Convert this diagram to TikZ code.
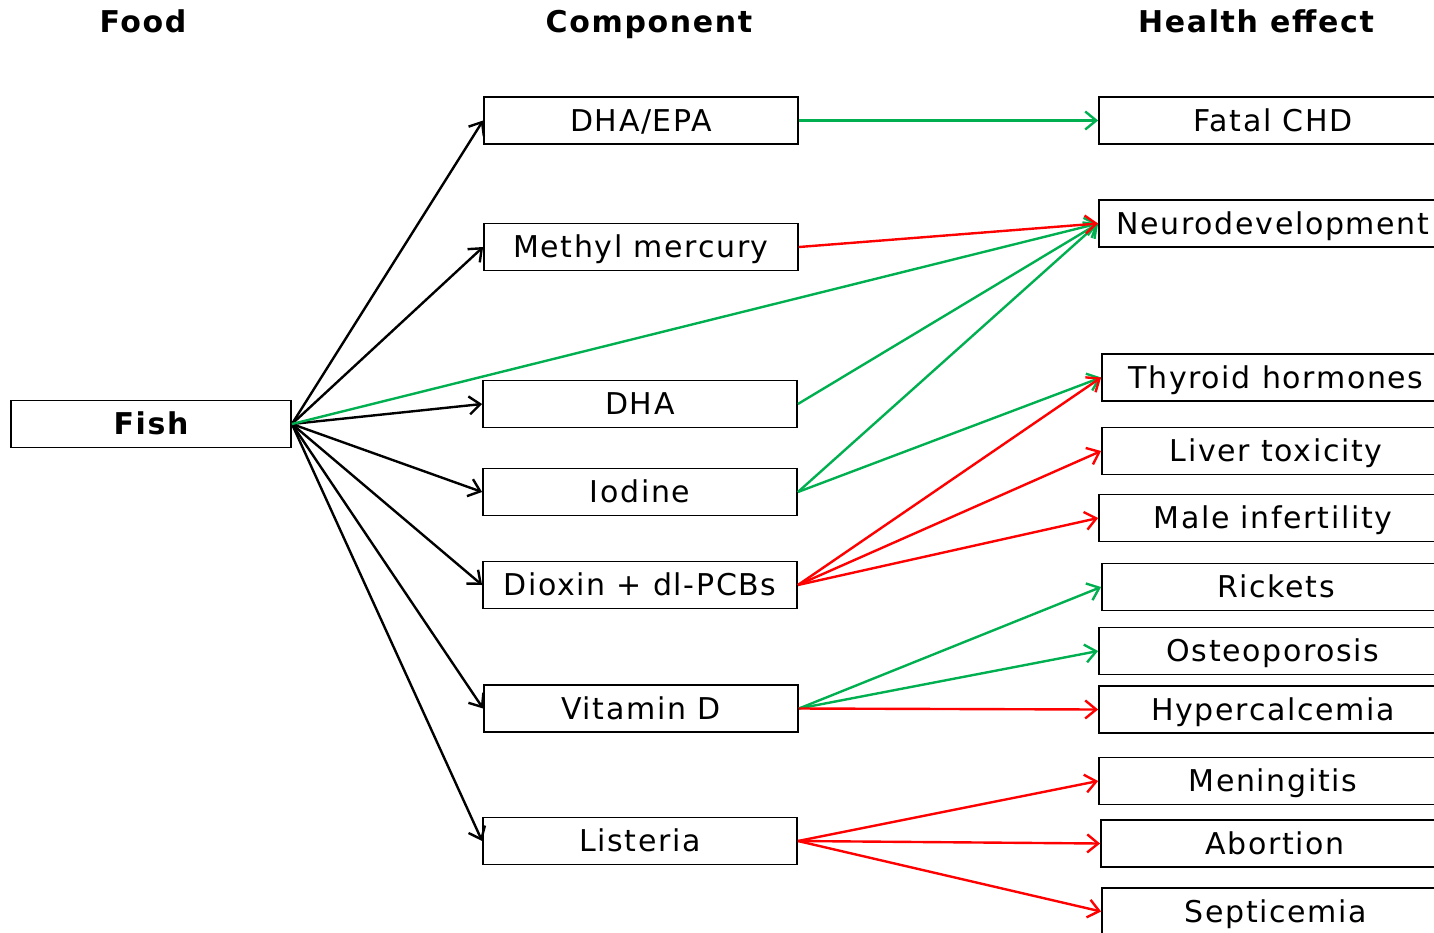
\documentclass[tikz,border=0pt]{standalone}
\usepackage{fontspec}
\setmainfont{DejaVu Sans}[LetterSpace=5.5]
\usetikzlibrary{arrows.meta}
\definecolor{effgreen}{RGB}{0,176,80}
\definecolor{effred}{RGB}{255,0,0}
\begin{document}
\begin{tikzpicture}[x=1pt,y=-1pt,
  txt/.style={font=\fontsize{30}{36}\selectfont, text height=21.5pt, text depth=0pt, inner sep=0pt},
  box/.style={txt, draw, line width=1.8pt, minimum height=47pt},
  comp/.style={box, minimum width=314pt},
  eff/.style={box, minimum width=348pt},
  head/.style={txt, font=\fontsize{30}{36}\selectfont\bfseries},
  link/.style={line width=2.4pt, -{Straight Barb[length=11pt,width=18pt]}},
  feed/.style={link, draw=black},
  good/.style={link, draw=effgreen},
  bad/.style={link, draw=effred}]
\useasboundingbox (0,0) rectangle (1434,932);
\clip (0,0) rectangle (1434,932);

% column headings
\node[head] (hfood) at (143,21.5) {Food};
\node[head] (hcomp) at (649,21.5) {Component};
\node[head] (heff)  at (1256,21.5) {Health effect};

% food
\node[box, minimum width=280pt, font=\fontsize{30}{36}\selectfont\bfseries] (fish) at (151,424) {Fish};

% components
\node[comp] (dhaepa) at (641,120.5) {DHA/EPA};
\node[comp] (mehg)   at (641,247)   {Methyl mercury};
\node[comp] (dha)    at (640,404)   {DHA};
\node[comp] (iod)    at (640,492)   {Iodine};
\node[comp] (diox)   at (640,585)   {Dioxin + dl-PCBs};
\node[comp] (vitd)   at (641,708.5) {Vitamin D};
\node[comp] (list)   at (640,841)   {Listeria};

% health effects
\node[eff] (fchd)   at (1273,120.5) {Fatal CHD};
\node[eff] (neuro)  at (1273,223.5) {Neurodevelopment};
\node[eff] (thyr)   at (1276,377.5) {Thyroid hormones};
\node[eff] (liver)  at (1276,451)   {Liver toxicity};
\node[eff] (male)   at (1273,518)   {Male infertility};
\node[eff] (rick)   at (1276,587)   {Rickets};
\node[eff] (osteo)  at (1273,651)   {Osteoporosis};
\node[eff] (hyper)  at (1273,709.5) {Hypercalcemia};
\node[eff] (mening) at (1273,781)   {Meningitis};
\node[eff] (abort)  at (1275,843.5) {Abortion};
\node[eff] (septi)  at (1276,911.5) {Septicemia};

% fish to its components
\foreach \c in {dhaepa,mehg,dha,iod,diox,vitd,list}
  \draw[feed] (fish.east) -- (\c.west);

% beneficial effects
\draw[good] (dhaepa.east) -- (fchd.west);
\draw[good] (fish.east) -- (neuro.west);
\draw[good] (dha.east) -- (neuro.west);
\draw[good] (iod.east) -- (neuro.west);
\draw[good] (iod.east) -- (thyr.west);
\draw[good] (vitd.east) -- (rick.west);
\draw[good] (vitd.east) -- (osteo.west);

% adverse effects
\draw[bad] (mehg.east) -- (neuro.west);
\draw[bad] (diox.east) -- (thyr.west);
\draw[bad] (diox.east) -- (liver.west);
\draw[bad] (diox.east) -- (male.west);
\draw[bad] (vitd.east) -- (hyper.west);
\draw[bad] (list.east) -- (mening.west);
\draw[bad] (list.east) -- (abort.west);
\draw[bad] (list.east) -- (septi.west);
\end{tikzpicture}
\end{document}
